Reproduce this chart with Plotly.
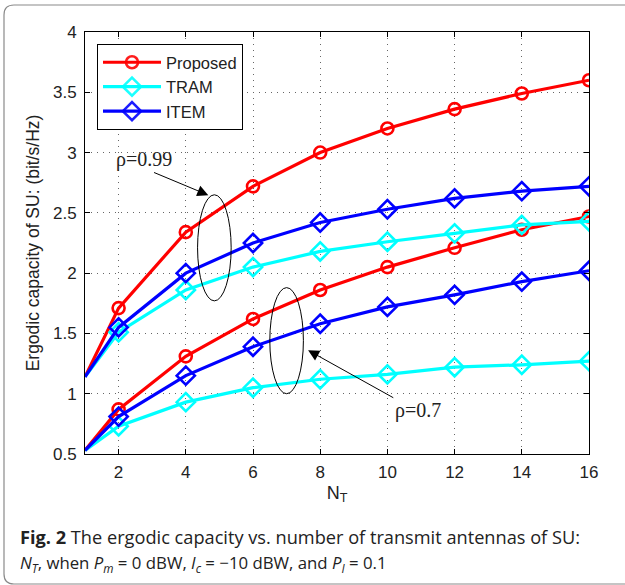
import plotly.graph_objects as go

# Number of transmit antennas at the SU
n_t = [1, 2, 4, 6, 8, 10, 12, 14, 16]

# Ergodic capacity (bit/s/Hz), rho = 0.99
proposed_099 = [1.14, 1.71, 2.34, 2.72, 3.00, 3.20, 3.36, 3.49, 3.60]
tram_099 = [1.14, 1.51, 1.86, 2.05, 2.18, 2.26, 2.33, 2.40, 2.43]
item_099 = [1.14, 1.55, 2.00, 2.25, 2.42, 2.53, 2.62, 2.68, 2.72]

# Ergodic capacity (bit/s/Hz), rho = 0.7
proposed_07 = [0.53, 0.87, 1.31, 1.62, 1.86, 2.05, 2.21, 2.36, 2.47]
tram_07 = [0.53, 0.73, 0.93, 1.05, 1.12, 1.16, 1.22, 1.24, 1.27]
item_07 = [0.53, 0.81, 1.15, 1.39, 1.58, 1.72, 1.82, 1.93, 2.02]

x_ticks = [2, 4, 6, 8, 10, 12, 14, 16]
y_ticks = [0.5, 1, 1.5, 2, 2.5, 3, 3.5, 4]

W, H = 625, 585
ML, MR, MT, MB = 85, 36, 32, 131
PW, PH = W - ML - MR, H - MT - MB

RED, CYAN, BLUE = "#ff0000", "#00ffff", "#0000ff"
TXT = "#222222"
SANS = "Liberation Sans, Arial, Helvetica"
SERIF = "Liberation Serif, Times New Roman, serif"
# first sample (N_T = 1) is drawn without a marker
mk_opacity = [0] + [1] * (len(n_t) - 1)


def px(x):
    return (x - ML) / PW


def py(y):
    return 1 - (y - MT) / PH


series = [
    ("Proposed", proposed_099, proposed_07, RED, "circle-open", 12),
    ("TRAM", tram_099, tram_07, CYAN, "diamond-open", 14),
    ("ITEM", item_099, item_07, BLUE, "diamond-open", 14),
]

fig = go.Figure()
for name, y_hi, y_lo, col, sym, sz in series:
    for ys, show in ((y_hi, True), (y_lo, False)):
        fig.add_trace(go.Scatter(
            x=n_t, y=ys, name=name, showlegend=show,
            mode="lines+markers",
            line=dict(color=col, width=3.2),
            marker=dict(symbol=sym, size=sz, color=col, opacity=mk_opacity,
                        line=dict(width=2.6, color=col)),
        ))

axis_common = dict(
    showline=True, linecolor="black", linewidth=1, mirror="ticks",
    ticks="inside", ticklen=5, tickcolor="black",
    showgrid=True, gridcolor="#666666", griddash="1px,5px", gridwidth=1,
    zeroline=False,
    tickfont=dict(family=SANS, size=17, color=TXT),
)

fig.update_xaxes(range=[1, 16], tickvals=x_ticks, ticklabelstandoff=3, **axis_common,
                 title=dict(text="N<sub>T</sub>", standoff=4,
                            font=dict(family=SANS, size=18, color=TXT)))
fig.update_yaxes(range=[0.5, 4], tickvals=y_ticks, ticktext=[f"{v:g}" for v in y_ticks],
                 ticklabelstandoff=4, **axis_common,
                 title=dict(text="Ergodic capacity of SU: (bit/s/Hz)", standoff=8,
                            font=dict(family=SANS, size=17.5, color=TXT)))

shapes = [
    # curve-group ellipses
    dict(type="circle", xref="x", yref="y", x0=4.35, x1=5.35, y0=1.77, y1=2.65,
         line=dict(color="black", width=1)),
    dict(type="circle", xref="x", yref="y", x0=6.5, x1=7.5, y0=1.0, y1=1.88,
         line=dict(color="black", width=1)),
]

# rounded outer frame around figure + caption
fx0, fy0, fx1, fy1, r = 4, 5, 660, 584, 10
frame_path = (
    f"M {px(fx1)},{py(fy0)} L {px(fx0 + r)},{py(fy0)} "
    f"Q {px(fx0)},{py(fy0)} {px(fx0)},{py(fy0 + r)} "
    f"L {px(fx0)},{py(fy1 - r)} "
    f"Q {px(fx0)},{py(fy1)} {px(fx0 + r)},{py(fy1)} "
    f"L {px(fx1)},{py(fy1)}"
)
shapes.append(dict(type="path", xref="paper", yref="paper", path=frame_path,
                   line=dict(color="#8a8a8a", width=1.2)))

annotations = [
    dict(x=4.67, y=2.647, ax=3.01, ay=2.84, xref="x", yref="y", axref="x", ayref="y",
         text="", showarrow=True, arrowhead=2, arrowsize=2.2, arrowwidth=1, arrowcolor="black"),
    dict(x=7.64, y=1.36, ax=10.22, ay=0.96, xref="x", yref="y", axref="x", ayref="y",
         text="", showarrow=True, arrowhead=2, arrowsize=2.2, arrowwidth=1, arrowcolor="black"),
    dict(x=2.76, y=2.94, xref="x", yref="y", text="ρ=0.99", showarrow=False,
         font=dict(family=SERIF, size=20, color=TXT)),
    dict(x=10.9, y=0.86, xref="x", yref="y", text="ρ=0.7", showarrow=False,
         font=dict(family=SERIF, size=20, color=TXT)),
    dict(x=px(18), y=py(537), xref="paper", yref="paper", xanchor="left", yanchor="middle",
         showarrow=False, align="left",
         text="<b>Fig. 2</b> The ergodic capacity vs. number of transmit antennas of SU:",
         font=dict(family="Open Sans", size=18.2, color=TXT)),
    dict(x=px(18), y=py(563), xref="paper", yref="paper", xanchor="left", yanchor="middle",
         showarrow=False, align="left",
         text=("<i>N</i><sub><i>T</i></sub>, when <i>P</i><sub><i>m</i></sub> = 0 dBW, "
               "<i>I</i><sub><i>c</i></sub> = −10 dBW, and <i>P</i><sub><i>I</i></sub> = 0.1"),
         font=dict(family="Open Sans", size=16.8, color=TXT)),
]

fig.update_layout(
    width=W, height=H,
    margin=dict(l=ML, r=MR, t=MT, b=MB),
    paper_bgcolor="white", plot_bgcolor="white",
    shapes=shapes, annotations=annotations,
    legend=dict(x=px(97), y=py(44), xanchor="left", yanchor="top",
                bgcolor="white", bordercolor="black", borderwidth=1,
                font=dict(family=SANS, size=16.5, color=TXT),
                itemwidth=58, tracegroupgap=0),
    showlegend=True,
)

fig.write_html("out.html")
